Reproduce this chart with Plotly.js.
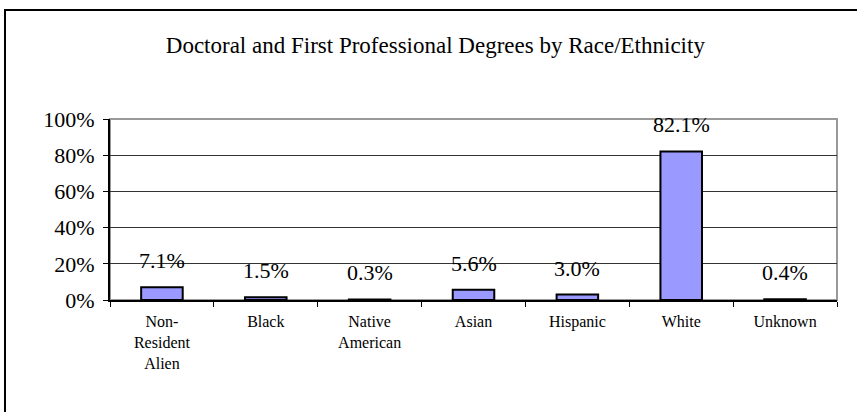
<!DOCTYPE html>
<html>
<head>
<meta charset="utf-8">
<script src="https://cdn.plot.ly/plotly-3.0.1.min.js"></script>
<style>
  html, body { margin: 0; padding: 0; background: #fff; }
  #wrap { position: relative; width: 857px; height: 412px; overflow: hidden; }
  #chart { width: 857px; height: 412px; }
  #frame { position: absolute; left: 4px; top: 9px; width: 900px; height: 500px;
           border-left: 2px solid #000; border-top: 2px solid #000; pointer-events: none; }
</style>
</head>
<body>
<div id="wrap">
  <div id="chart"></div>
  <div id="frame"></div>
</div>
<script>
const categories = ["Non-<br>Resident<br>Alien", "Black", "Native<br>American", "Asian", "Hispanic", "White", "Unknown"];
const values = [7.1, 1.5, 0.3, 5.6, 3.0, 82.1, 0.4];
const valueLabels = ["7.1%", "1.5%", "0.3%", "5.6%", "3.0%", "82.1%", "0.4%"];
const yTicks = [0, 20, 40, 60, 80, 100];

const serif = "Liberation Serif";

const trace = {
  type: 'bar',
  x: categories,
  y: values,
  marker: { color: '#9999FF', line: { color: '#000', width: 2 } },
  hoverinfo: 'none'
};

const annotations = categories.map((c, i) => ({
  x: c, y: values[i], xref: 'x', yref: 'y',
  text: valueLabels[i], showarrow: false,
  yanchor: 'bottom', yshift: 12,
  font: { family: serif, size: 22, color: '#000' }
}));

const layout = {
  width: 857, height: 412,
  margin: { l: 110, r: 20, t: 119, b: 112 },
  paper_bgcolor: '#fff', plot_bgcolor: '#fff',
  showlegend: false,
  bargap: 0.6,
  font: { family: serif, color: '#000' },
  title: {
    text: 'Doctoral and First Professional Degrees by Race/Ethnicity',
    font: { family: serif, size: 23, color: '#000' },
    x: 0.508, xref: 'container', xanchor: 'center',
    y: 1 - 45 / 412, yref: 'container', yanchor: 'middle'
  },
  xaxis: {
    type: 'category',
    tickson: 'boundaries', ticks: 'outside', ticklen: 5, tickcolor: '#000', tickwidth: 1,
    showline: true, linecolor: '#000', linewidth: 2,
    showgrid: false,
    tickfont: { family: serif, size: 16, color: '#000' },
    ticklabelstandoff: 6,
    fixedrange: true
  },
  yaxis: {
    range: [0, 100],
    tickvals: yTicks,
    ticktext: yTicks.map(v => v + '%'),
    ticks: 'outside', ticklen: 5, tickcolor: '#000', tickwidth: 1,
    showline: true, linecolor: '#000', linewidth: 2,
    showgrid: true, gridcolor: '#333', gridwidth: 1,
    zeroline: false,
    tickfont: { family: serif, size: 22, color: '#000' },
    ticklabelstandoff: 4,
    fixedrange: true
  },
  shapes: [{
    type: 'rect', xref: 'paper', yref: 'paper', x0: 0, x1: 1, y0: 0, y1: 1,
    line: { color: '#999', width: 2 }, layer: 'below'
  }],
  annotations: annotations
};

Plotly.newPlot('chart', [trace], layout, { displayModeBar: false, staticPlot: true });
</script>
</body>
</html>
